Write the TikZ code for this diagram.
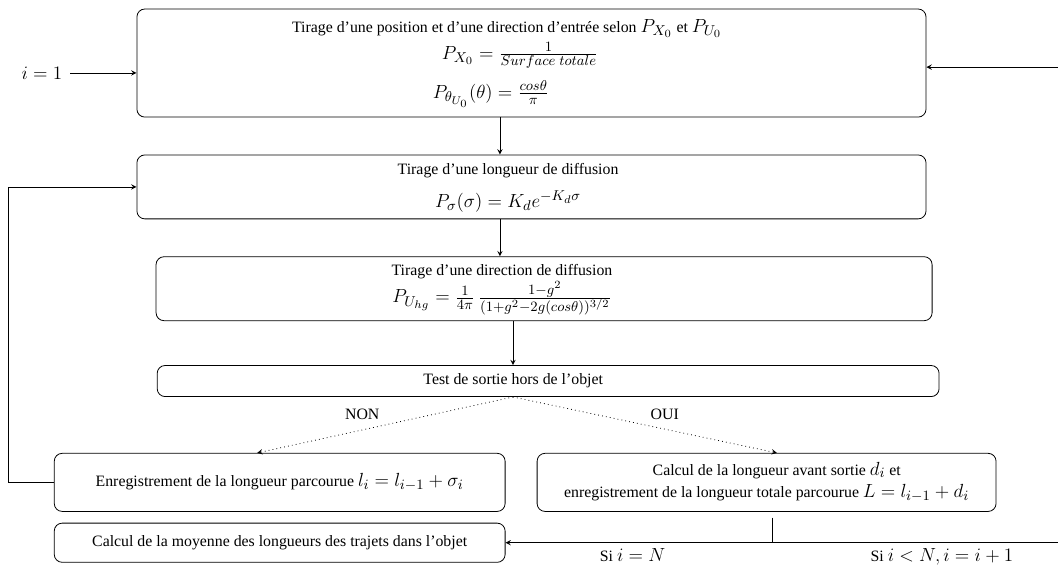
\documentclass[tikz,border=0pt]{standalone}
\usepackage{fontspec}
\setmainfont{Liberation Serif}
\DeclareMathSizes{10}{12}{9.5}{7.5}
\usetikzlibrary{shapes.geometric, arrows}
\tikzstyle{bloc} = [rectangle, rounded corners=5pt, draw=black, text centered, inner sep=2pt, line width=0.5pt]
\tikzstyle{arrow} = [->,>=stealth, line width=0.5pt]
\tikzstyle{choix} = [dotted,->,>=stealth, line width=0.5pt]

\begin{document}
\begin{tikzpicture}
  \useasboundingbox (-11.80,1.40) rectangle (11.69,-11.17);
  \node (tirage_pos) [bloc, minimum width=17.52cm, minimum height=2.40cm] {\begin{tabular}{c}
    Tirage d’une position et d’une direction d’entrée selon $P_{X_0}$ et $P_{U_0}$\\[3pt]
    \hspace*{0.58cm}$P_{X_0} = \frac{1}{Surface\ totale}$\\[10pt]
    $P_{\theta_{U_0}}(\theta) = \frac{cos\theta}{\pi}$\hspace*{0.71cm}
  \end{tabular}\hspace*{1.09cm}};
  \node (tirage_long) [bloc, below of = tirage_pos, node distance=2.75cm, minimum width=17.52cm, minimum height=1.42cm] {\begin{tabular}{c}
    Tirage d’une longueur de diffusion\\[7pt]
    $P_\sigma(\sigma) = K_d e^{-K_d\sigma}$
  \end{tabular}\hspace*{1.04cm}};
  \node (tirage_dir) [bloc, below of = tirage_long, node distance=2.26cm, xshift=0.28cm, minimum width=17.23cm, minimum height=1.42cm] {\begin{tabular}{c}
    Tirage d’une direction de diffusion\\[0pt]
    $P_{U_{hg}} = \frac{1}{4\pi}\,\frac{1-g^2}{(1+g^2-2g(cos\theta))^{3/2}}$
  \end{tabular}\hspace*{1.87cm}};
  \node (test) [bloc, below of = tirage_dir, node distance=2.05cm, xshift=0.09cm, minimum width=17.36cm, minimum height=0.69cm] {Test de sortie hors de l’objet\hspace*{1.55cm}};
  \node (enreg) [bloc, below of = test, node distance=2.25cm, xshift=-5.96cm, minimum width=10.01cm, minimum height=1.29cm] {Enregistrement de la longueur parcourue $l_i = l_{i-1} + \sigma_i$};
  \node (sortie) [bloc, right of = enreg, node distance=10.81cm, minimum width=10.19cm, minimum height=1.29cm] {\begin{tabular}{c}
    \hspace*{0.45cm}Calcul de la longueur avant sortie $d_i$ et\\[2pt]
    enregistrement de la longueur totale parcourue $L = l_{i-1} + d_i$
  \end{tabular}};
  \node (moyenne) [bloc, below of = enreg, node distance=1.34cm, minimum width=10.01cm, minimum height=0.87cm] {Calcul de la moyenne des longueurs des trajets dans l’objet};
  \node (init) [left of = tirage_pos, node distance=10.87cm, yshift=-0.22cm, inner sep=5pt] {$i = 1$};
  \coordinate (retour) at (11.69,-0.09);
  \coordinate (bord) at (retour |- moyenne.east);

  \draw[arrow] (init.east) -- (init.east -| tirage_pos.west);
  \draw[arrow] (retour) -- (retour -| tirage_pos.east);
  \draw[arrow] ([xshift=-0.70cm]tirage_pos.south) -- ([xshift=-0.70cm]tirage_long.north);
  \draw[arrow] ([xshift=-0.70cm]tirage_long.south) -- ([xshift=-0.70cm]tirage_long.south |- tirage_dir.north);
  \draw[arrow] ([xshift=-0.69cm]tirage_dir.south) -- ([xshift=-0.69cm]tirage_dir.south |- test.north);

  \draw[choix] ([xshift=-0.78cm]test.south) -- node[midway, above left]{NON} ([xshift=-0.5cm]enreg.north);
  \draw[choix] ([xshift=-0.78cm]test.south) -- node[midway, above right]{OUI} ([xshift=0.23cm]sortie.north);

  \draw[arrow] (enreg.west) -- ++(-1.0,0) |- (tirage_long.west);
  \draw[line width=0.5pt] ([xshift=0.14cm, yshift=-0.13cm]sortie.south) -- ([xshift=0.14cm]sortie.south |- moyenne.east);
  \draw[arrow] (bord) -- node[pos=0.21, below]{Si $i < N, i = i + 1$} node[pos=0.77, below]{Si $i = N$} (moyenne.east);
\end{tikzpicture}
\end{document}
